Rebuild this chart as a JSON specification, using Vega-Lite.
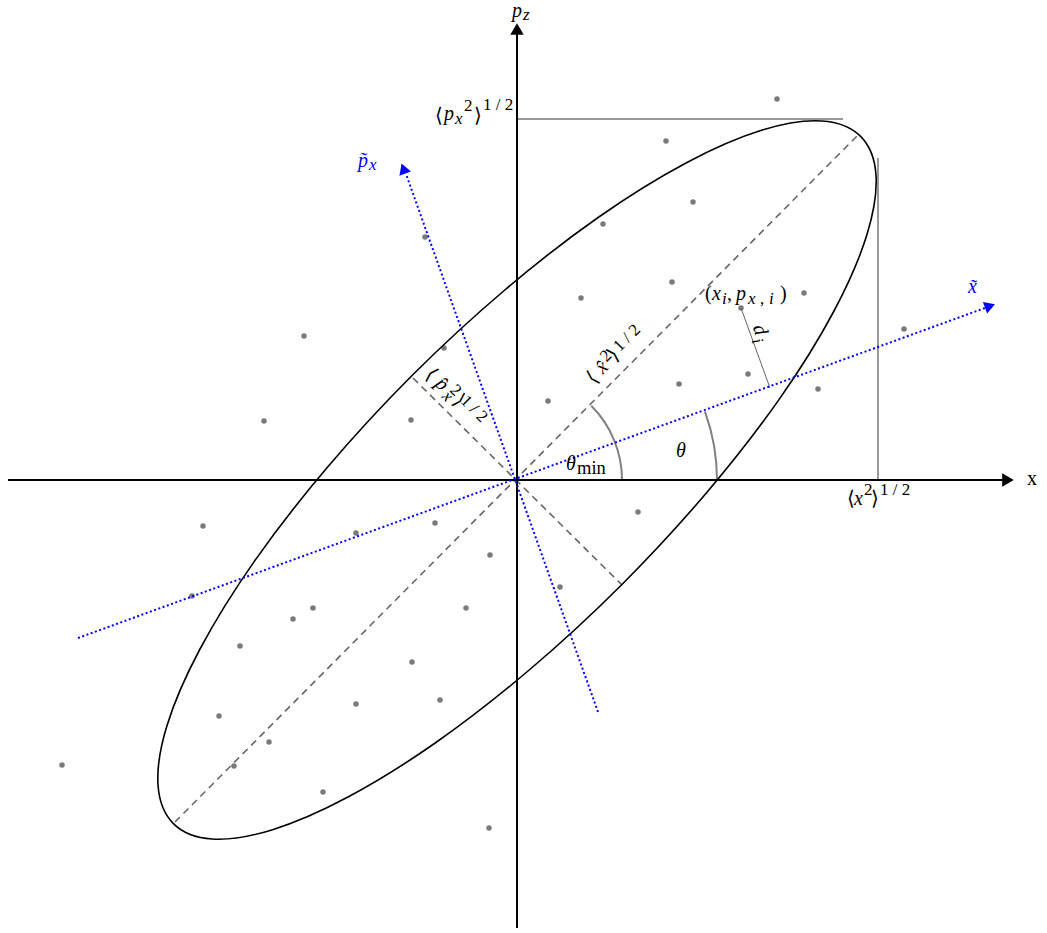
{
  "$schema": "https://vega.github.io/schema/vega-lite/v6.json",
  "width": 1047,
  "height": 933,
  "autosize": {"type": "none"},
  "padding": 0,
  "background": "white",
  "config": {"view": {"stroke": null}, "text": {"font": "Liberation Serif"}},
  "datasets": {
    "points": [
      {"x": 260, "y": 381}, {"x": 149, "y": 339}, {"x": 176, "y": 278}, {"x": 86, "y": 256},
      {"x": -92, "y": 243}, {"x": 155, "y": 198}, {"x": 64, "y": 182}, {"x": 287, "y": 187},
      {"x": 224, "y": 172}, {"x": 387, "y": 151}, {"x": -213, "y": 144}, {"x": -73, "y": 132},
      {"x": 162, "y": 96}, {"x": 231, "y": 106}, {"x": 301, "y": 91}, {"x": 31, "y": 79},
      {"x": -253, "y": 59}, {"x": -106, "y": 60}, {"x": 121, "y": -32}, {"x": -314, "y": -46},
      {"x": -82, "y": -43}, {"x": -161, "y": -53}, {"x": -27, "y": -75}, {"x": 43, "y": -107},
      {"x": -325, "y": -116}, {"x": -51, "y": -128}, {"x": -204, "y": -128}, {"x": -224, "y": -139},
      {"x": -277, "y": -166}, {"x": -105, "y": -182}, {"x": -77, "y": -220}, {"x": -161, "y": -224},
      {"x": -298, "y": -236}, {"x": -248, "y": -262}, {"x": -283, "y": -286}, {"x": -455, "y": -285},
      {"x": -194, "y": -312}, {"x": -28, "y": -348}
    ],
    "ellipse": [
      {"t": 0, "x": 343.6, "y": 343.6}, {"t": 15, "x": 304.8, "y": 359.0}, {"t": 30, "x": 245.2, "y": 349.9},
      {"t": 45, "x": 169.0, "y": 317.0}, {"t": 60, "x": 81.1, "y": 262.5}, {"t": 75, "x": -12.2, "y": 190.0},
      {"t": 90, "x": -104.7, "y": 104.7}, {"t": 105, "x": -190.0, "y": 12.2}, {"t": 120, "x": -262.5, "y": -81.1},
      {"t": 135, "x": -317.0, "y": -169.0}, {"t": 150, "x": -349.9, "y": -245.2}, {"t": 165, "x": -359.0, "y": -304.8},
      {"t": 180, "x": -343.6, "y": -343.6}, {"t": 195, "x": -304.8, "y": -359.0}, {"t": 210, "x": -245.2, "y": -349.9},
      {"t": 225, "x": -169.0, "y": -317.0}, {"t": 240, "x": -81.1, "y": -262.5}, {"t": 255, "x": 12.2, "y": -190.0},
      {"t": 270, "x": 104.7, "y": -104.7}, {"t": 285, "x": 190.0, "y": -12.2}, {"t": 300, "x": 262.5, "y": 81.1},
      {"t": 315, "x": 317.0, "y": 169.0}, {"t": 330, "x": 349.9, "y": 245.2}, {"t": 345, "x": 359.0, "y": 304.8}
    ],
    "axes": [
      {"x": -509, "y": 0, "x2": 493, "y2": 0},
      {"x": 0, "y": -448, "x2": 0, "y2": 450}
    ],
    "guides": [
      {"x": 0, "y": 361, "x2": 326, "y2": 361},
      {"x": 361, "y": 322, "x2": 361, "y2": 0}
    ],
    "dashed": [
      {"x": -342, "y": -342, "x2": 343, "y2": 347},
      {"x": -104, "y": 102, "x2": 105, "y2": -105}
    ],
    "dotted": [
      {"x": -439, "y": -158, "x2": 468, "y2": 172},
      {"x": 81, "y": -232, "x2": -111, "y2": 306}
    ],
    "distance": [
      {"x": 224, "y": 172, "x2": 253, "y2": 92}
    ],
    "origin": [{"x": 0, "y": 0}],
    "arrowRight": [{"x": 491, "y": 0}],
    "arrowUp": [{"x": 0, "y": 451}],
    "blueArrowRight": [{"x": 473, "y": 174}],
    "blueArrowUp": [{"x": -113.6, "y": 311.4}],
    "upright": [
      {"x": -82, "y": 358, "text": "⟨", "role": "main"},
      {"x": -43, "y": 358, "text": "⟩", "role": "main"},
      {"x": -53, "y": 369, "text": "2", "role": "script"},
      {"x": -34, "y": 370, "text": "1 / 2", "role": "script"},
      {"x": 188, "y": 180, "text": "(", "role": "main"},
      {"x": 210, "y": 180, "text": ",", "role": "main"},
      {"x": 263, "y": 180, "text": ")", "role": "main"},
      {"x": 243, "y": 176, "text": ",", "role": "script"},
      {"x": 330, "y": -25, "text": "⟨", "role": "main"},
      {"x": 354, "y": -25, "text": "⟩", "role": "main"},
      {"x": 347, "y": -15, "text": "2", "role": "script"},
      {"x": 363, "y": -15, "text": "1 / 2", "role": "script"},
      {"x": 510, "y": -5, "text": "x", "role": "main"},
      {"x": 60, "y": 6, "text": "min", "role": "mid"}
    ],
    "italic": [
      {"x": -5, "y": 463, "text": "p", "role": "main"},
      {"x": 6, "y": 460, "text": "z", "role": "script"},
      {"x": -73, "y": 360, "text": "p", "role": "main"},
      {"x": -62, "y": 356, "text": "x", "role": "script"},
      {"x": 195, "y": 180, "text": "x", "role": "main"},
      {"x": 205, "y": 176, "text": "i", "role": "script"},
      {"x": 219, "y": 180, "text": "p", "role": "main"},
      {"x": 231, "y": 176, "text": "x", "role": "script"},
      {"x": 252, "y": 176, "text": "i", "role": "script"},
      {"x": 49, "y": 10, "text": "θ", "role": "main"},
      {"x": 159, "y": 23, "text": "θ", "role": "main"},
      {"x": 337, "y": -25, "text": "x", "role": "main"}
    ],
    "blueItalic": [
      {"x": -159, "y": 313, "text": "p̃", "role": "main"},
      {"x": -148, "y": 310, "text": "x", "role": "script"},
      {"x": 451, "y": 187, "text": "x̃", "role": "main"}
    ],
    "rot72": [
      {"x": 243, "y": 150, "text": "d", "role": "main"},
      {"x": 240, "y": 139, "text": "i", "role": "script"}
    ],
    "rot315Upright": [
      {"x": 76, "y": 102, "text": "⟨", "role": "main"},
      {"x": 89, "y": 124, "text": "2", "role": "script"},
      {"x": 97, "y": 125, "text": "⟩", "role": "main"},
      {"x": 110, "y": 142, "text": "1 / 2", "role": "script"}
    ],
    "rot315Italic": [
      {"x": 85, "y": 113, "text": "x̂", "role": "main"}
    ],
    "rot45Upright": [
      {"x": -86, "y": 105, "text": "⟨", "role": "main"},
      {"x": -61.5, "y": 89.5, "text": "2", "role": "script"},
      {"x": -58, "y": 79, "text": "⟩", "role": "main"},
      {"x": -43, "y": 71, "text": "1 / 2", "role": "script"}
    ],
    "rot45Italic": [
      {"x": -75, "y": 96, "text": "p̂", "role": "main"},
      {"x": -69.5, "y": 83.5, "text": "x", "role": "script"}
    ]
  },
  "encoding": {
    "x": {"field": "x", "type": "quantitative", "scale": {"domain": [-517, 530], "nice": false, "zero": false}, "axis": null},
    "y": {"field": "y", "type": "quantitative", "scale": {"domain": [-453, 480], "nice": false, "zero": false}, "axis": null}
  },
  "layer": [
    {
      "data": {"name": "points"},
      "mark": {"type": "circle", "size": 30, "color": "#7a7a7a", "opacity": 1}
    },
    {
      "data": {"name": "dashed"},
      "mark": {"type": "rule", "color": "#666666", "strokeWidth": 1.6, "strokeDash": [7, 5]},
      "encoding": {"x2": {"field": "x2"}, "y2": {"field": "y2"}}
    },
    {
      "data": {"name": "guides"},
      "mark": {"type": "rule", "color": "#333333", "strokeWidth": 1},
      "encoding": {"x2": {"field": "x2"}, "y2": {"field": "y2"}}
    },
    {
      "data": {"name": "distance"},
      "mark": {"type": "rule", "color": "#666666", "strokeWidth": 1},
      "encoding": {"x2": {"field": "x2"}, "y2": {"field": "y2"}}
    },
    {
      "data": {"name": "origin"},
      "mark": {"type": "arc", "theta": 0.7854, "theta2": 1.5708, "innerRadius": 105, "outerRadius": 105, "fill": null, "stroke": "#808080", "strokeWidth": 2}
    },
    {
      "data": {"name": "origin"},
      "mark": {"type": "arc", "theta": 1.2217, "theta2": 1.5708, "innerRadius": 200, "outerRadius": 200, "fill": null, "stroke": "#808080", "strokeWidth": 2}
    },
    {
      "data": {"name": "ellipse"},
      "mark": {"type": "line", "interpolate": "cardinal-closed", "color": "black", "strokeWidth": 1.6},
      "encoding": {"order": {"field": "t", "type": "quantitative"}}
    },
    {
      "data": {"name": "axes"},
      "mark": {"type": "rule", "color": "black", "strokeWidth": 2},
      "encoding": {"x2": {"field": "x2"}, "y2": {"field": "y2"}}
    },
    {
      "data": {"name": "dotted"},
      "mark": {"type": "rule", "color": "#0000ff", "strokeWidth": 2, "strokeDash": [2, 2.5]},
      "encoding": {"x2": {"field": "x2"}, "y2": {"field": "y2"}}
    },
    {
      "data": {"name": "arrowRight"},
      "mark": {"type": "point", "shape": "triangle-right", "size": 180, "filled": true, "color": "black", "opacity": 1}
    },
    {
      "data": {"name": "arrowUp"},
      "mark": {"type": "point", "shape": "triangle-up", "size": 180, "filled": true, "color": "black", "opacity": 1}
    },
    {
      "data": {"name": "blueArrowRight"},
      "mark": {"type": "point", "shape": "triangle-right", "size": 150, "angle": 340, "filled": true, "color": "#0000ff", "opacity": 1}
    },
    {
      "data": {"name": "blueArrowUp"},
      "mark": {"type": "point", "shape": "triangle-up", "size": 150, "angle": 340, "filled": true, "color": "#0000ff", "opacity": 1}
    },
    {
      "data": {"name": "upright"},
      "mark": {"type": "text", "align": "left", "baseline": "alphabetic", "color": "black"},
      "encoding": {"text": {"field": "text"}, "size": {"field": "role", "type": "ordinal", "scale": {"domain": ["main", "mid", "script"], "range": [20, 17, 15]}, "legend": null}}
    },
    {
      "data": {"name": "italic"},
      "mark": {"type": "text", "align": "left", "baseline": "alphabetic", "fontStyle": "italic", "color": "black"},
      "encoding": {"text": {"field": "text"}, "size": {"field": "role", "type": "ordinal", "scale": {"domain": ["main", "mid", "script"], "range": [20, 17, 15]}, "legend": null}}
    },
    {
      "data": {"name": "blueItalic"},
      "mark": {"type": "text", "align": "left", "baseline": "alphabetic", "fontStyle": "italic", "color": "#0000ff"},
      "encoding": {"text": {"field": "text"}, "size": {"field": "role", "type": "ordinal", "scale": {"domain": ["main", "mid", "script"], "range": [20, 17, 15]}, "legend": null}}
    },
    {
      "data": {"name": "rot72"},
      "mark": {"type": "text", "align": "center", "baseline": "middle", "fontStyle": "italic", "angle": 72, "color": "black"},
      "encoding": {"text": {"field": "text"}, "size": {"field": "role", "type": "ordinal", "scale": {"domain": ["main", "mid", "script"], "range": [20, 17, 15]}, "legend": null}}
    },
    {
      "data": {"name": "rot315Upright"},
      "mark": {"type": "text", "align": "center", "baseline": "middle", "angle": 315, "color": "black"},
      "encoding": {"text": {"field": "text"}, "size": {"field": "role", "type": "ordinal", "scale": {"domain": ["main", "mid", "script"], "range": [20, 17, 15]}, "legend": null}}
    },
    {
      "data": {"name": "rot315Italic"},
      "mark": {"type": "text", "align": "center", "baseline": "middle", "fontStyle": "italic", "angle": 315, "color": "black"},
      "encoding": {"text": {"field": "text"}, "size": {"field": "role", "type": "ordinal", "scale": {"domain": ["main", "mid", "script"], "range": [20, 17, 15]}, "legend": null}}
    },
    {
      "data": {"name": "rot45Upright"},
      "mark": {"type": "text", "align": "center", "baseline": "middle", "angle": 45, "color": "black"},
      "encoding": {"text": {"field": "text"}, "size": {"field": "role", "type": "ordinal", "scale": {"domain": ["main", "mid", "script"], "range": [20, 17, 15]}, "legend": null}}
    },
    {
      "data": {"name": "rot45Italic"},
      "mark": {"type": "text", "align": "center", "baseline": "middle", "fontStyle": "italic", "angle": 45, "color": "black"},
      "encoding": {"text": {"field": "text"}, "size": {"field": "role", "type": "ordinal", "scale": {"domain": ["main", "mid", "script"], "range": [20, 17, 15]}, "legend": null}}
    }
  ]
}
